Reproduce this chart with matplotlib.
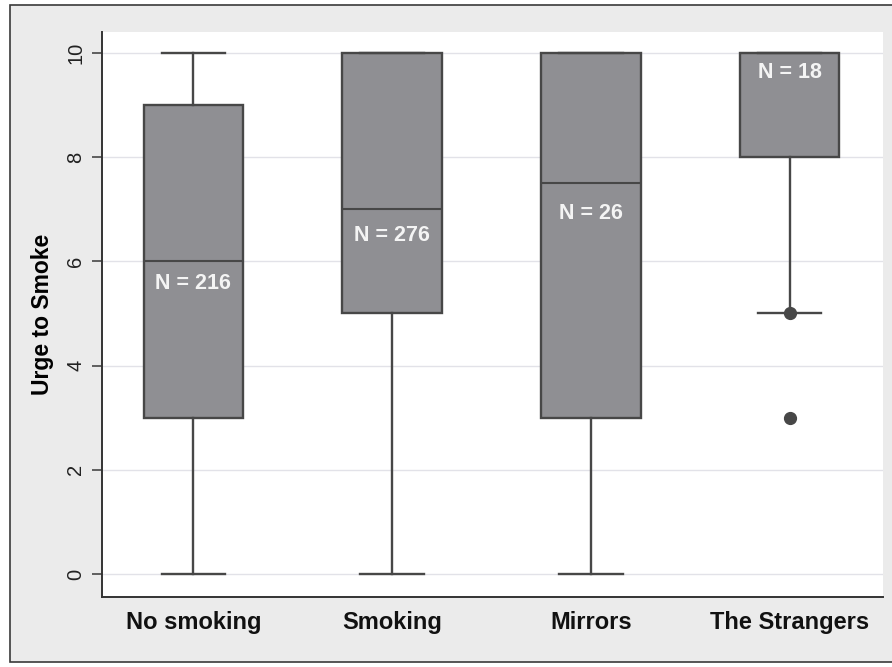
import matplotlib
matplotlib.use("Agg")
import matplotlib.pyplot as plt
from matplotlib.patches import Rectangle

plt.rcParams['font.family'] = ['Liberation Sans', 'DejaVu Sans']

# Summary statistics per condition
categories = ["No smoking", "Smoking", "Mirrors", "The Strangers"]
whisker_low = [0, 0, 0, 5]
q1 = [3, 5, 3, 8]
median = [6, 7, 7.5, 10]
q3 = [9, 10, 10, 10]
whisker_high = [10, 10, 10, 10]
outliers = [[], [], [], [5, 3]]
n_counts = [216, 276, 26, 18]
y_ticks = [0, 2, 4, 6, 8, 10]

box_fill = "#8f8f93"
line_col = "#474747"

fig = plt.figure(figsize=(8.92, 6.67), dpi=100)
fig.patch.set_facecolor("white")

# Outer framed panel
W, H = 892, 667
fig.patches.append(Rectangle((10 / W, 5 / H), 1.0, (662 - 5) / H,
                             transform=fig.transFigure, facecolor="#ebebeb",
                             edgecolor="#3a3a3a", linewidth=1.2, zorder=-10))

ax = fig.add_axes([102 / W, 1 - 597 / H, (883 - 102) / W, (597 - 32) / H])
ax.set_zorder(1)
ax.set_facecolor("white")

stats = []
for i, name in enumerate(categories):
    stats.append(dict(label=name, whislo=whisker_low[i], q1=q1[i], med=median[i],
                      q3=q3[i], whishi=whisker_high[i], fliers=outliers[i]))

positions = list(range(len(categories)))
ax.bxp(stats, positions=positions, widths=0.5, patch_artist=True,
       showfliers=True, manage_ticks=False,
       boxprops=dict(facecolor=box_fill, edgecolor=line_col, linewidth=1.7),
       medianprops=dict(color=line_col, linewidth=1.5),
       whiskerprops=dict(color=line_col, linewidth=1.7),
       capprops=dict(color=line_col, linewidth=1.7),
       capwidths=0.32,
       flierprops=dict(marker="o", markerfacecolor=line_col, markeredgecolor=line_col,
                       markersize=8.5), zorder=3)

# Sample-size labels set just below each median
label_drop = [0.38, 0.46, 0.54, 0.33]
for i, n in enumerate(n_counts):
    ax.text(positions[i], median[i] - label_drop[i], f"N = {n}", ha="center",
            va="center_baseline", color="#f4f4f4", fontsize=15.5, fontweight="bold",
            zorder=5)

ax.set_xlim(-0.46, 3.47)
ax.set_ylim(-0.44, 10.4)
ax.set_yticks(y_ticks)
ax.set_yticklabels([str(t) for t in y_ticks], rotation=90, va="center",
                   fontsize=14.5, color="#222222")
ax.set_xticks(positions)
ax.set_xticklabels(categories, fontsize=17, fontweight="bold", color="#111111")
ax.tick_params(axis="x", length=0, pad=10)
ax.tick_params(axis="y", length=7, width=1.2, color=line_col, pad=5)

ax.grid(axis="y", color="#e2e2e8", linewidth=1.0, zorder=0)
ax.set_axisbelow(True)
for side in ("top", "right"):
    ax.spines[side].set_visible(False)
for side in ("left", "bottom"):
    ax.spines[side].set_color("#333333")
    ax.spines[side].set_linewidth(1.4)

ax.set_ylabel("Urge to Smoke", fontsize=16.5, fontweight="bold", labelpad=9)

fig.savefig("out.png", dpi=100, facecolor=fig.get_facecolor())
